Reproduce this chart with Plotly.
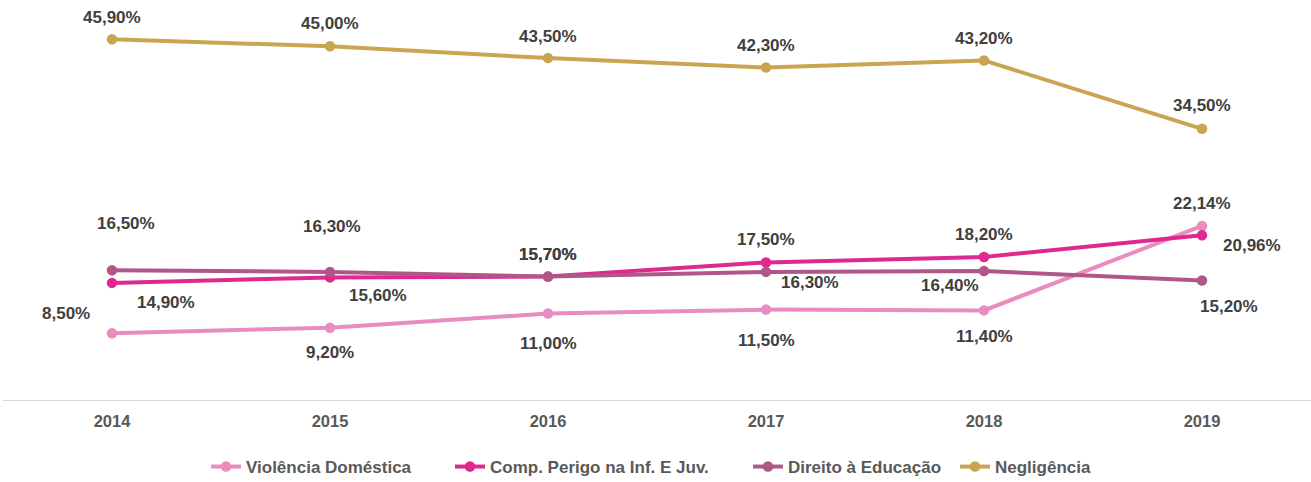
import plotly.graph_objects as go

years = ["2014", "2015", "2016", "2017", "2018", "2019"]
violencia = [8.50, 9.20, 11.00, 11.50, 11.40, 22.14]
perigo = [14.90, 15.60, 15.70, 17.50, 18.20, 20.96]
educacao = [16.50, 16.30, 15.70, 16.30, 16.40, 15.20]
negligencia = [45.90, 45.00, 43.50, 42.30, 43.20, 34.50]

names = ["Violência Doméstica", "Comp. Perigo na Inf. E Juv.", "Direito à Educação", "Negligência"]
colors = ["#E98CBF", "#E0298F", "#B0578A", "#C9A551"]
series = [violencia, perigo, educacao, negligencia]

# label offsets in pixels (dx, dy) - screen coords (dy positive = down)
offsets = [
    [(-46, -20), (0, 25), (0, 30), (0, 31), (0, 26), (0, -22)],
    [(54, 20), (48, 18), (0, -22), (0, -23), (0, -22), (50, 10)],
    [(14, -47), (2, -45), (0, -22), (44, 11), (-34, 14), (27, 26)],
    [(0, -22), (0, -23), (0, -22), (0, -22), (0, -22), (0, -23)],
]

# legend text left positions (pixels) for separate legends
legend_px = [246, 490, 788, 995]
legend_keys = ["legend", "legend2", "legend3", "legend4"]

PL, PW = 3, 1308  # plot area left, width in px

fig = go.Figure()
for name, color, vals, lk in zip(names, colors, series, legend_keys):
    fig.add_trace(go.Scatter(
        x=years, y=vals, name=name, mode="lines+markers",
        line=dict(color=color, width=4),
        marker=dict(color=color, size=10.5),
        hoverinfo="skip", legend=lk,
    ))

annotations = []
for vals, offs in zip(series, offsets):
    for i, (v, (dx, dy)) in enumerate(zip(vals, offs)):
        annotations.append(dict(
            x=i, y=v, xref="x", yref="y",
            text=f"{v:.2f}".replace(".", ",") + "%",
            showarrow=False, xshift=dx, yshift=-dy,
            font=dict(family="Liberation Sans, Arial, sans-serif", size=17,
                      color="#404040", weight="bold"),
            xanchor="center", yanchor="middle",
        ))

legend_layout = {}
for lk, px in zip(legend_keys, legend_px):
    legend_layout[lk] = dict(
        x=(px - 40 - PL) / PW, xanchor="left", y=-0.1705, yanchor="middle",
        orientation="h", bgcolor="rgba(0,0,0,0)", borderwidth=0,
        font=dict(family="Liberation Sans, Arial, sans-serif", size=17,
                  color="#595959", weight="bold"),
    )

fig.update_layout(
    width=1311, height=482,
    margin=dict(l=PL, r=0, t=7, b=82, autoexpand=False),
    paper_bgcolor="white", plot_bgcolor="white",
    font=dict(family="Liberation Sans, Arial, sans-serif", color="#595959"),
    annotations=annotations,
    showlegend=True,
    xaxis=dict(type="category", range=[-0.5, 5.5], showgrid=False, zeroline=False,
               showline=True, linecolor="#D9D9D9", linewidth=1,
               ticks="", ticklabelstandoff=6,
               tickfont=dict(size=16.5, color="#595959", weight="bold")),
    yaxis=dict(range=[0, 50], visible=False, showgrid=False, zeroline=False),
    **legend_layout,
)

fig.write_html("out.html", config={"displayModeBar": False},
               post_script="document.body.style.margin='0px';")
